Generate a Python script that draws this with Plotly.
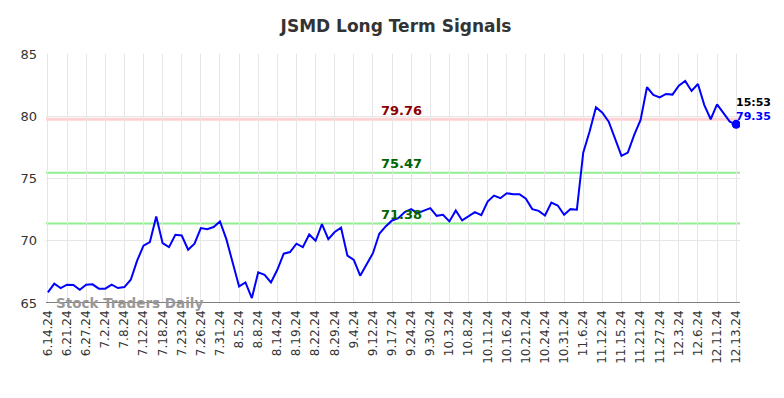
import plotly.graph_objects as go

tick_labels = ["6.14.24", "6.21.24", "6.27.24", "7.2.24", "7.8.24", "7.12.24", "7.18.24",
               "7.23.24", "7.26.24", "7.31.24", "8.5.24", "8.8.24", "8.14.24", "8.19.24",
               "8.22.24", "8.29.24", "9.4.24", "9.12.24", "9.17.24", "9.24.24", "9.30.24",
               "10.3.24", "10.8.24", "10.11.24", "10.16.24", "10.21.24", "10.24.24",
               "10.31.24", "11.6.24", "11.12.24", "11.15.24", "11.21.24", "11.27.24",
               "12.3.24", "12.6.24", "12.11.24", "12.13.24"]

prices = [65.85, 66.55, 66.2, 66.47, 66.45, 66.07, 66.47, 66.5, 66.15, 66.15,
          66.47, 66.2, 66.28, 66.87, 68.4, 69.6, 69.9, 71.95, 69.81, 69.49,
          70.48, 70.42, 69.28, 69.76, 71.02, 70.93, 71.1, 71.55, 70.13, 68.2,
          66.33, 66.65, 65.4, 67.46, 67.27, 66.65, 67.67, 68.96, 69.09, 69.76,
          69.49, 70.5, 70.0, 71.34, 70.13, 70.7, 71.05, 68.8, 68.47, 67.19,
          68.07, 69.0, 70.56, 71.15, 71.63, 71.82, 72.3, 72.54, 72.22, 72.43,
          72.62, 72.0, 72.08, 71.55, 72.43, 71.63, 71.95, 72.3, 72.06, 73.15,
          73.63, 73.42, 73.82, 73.74, 73.74, 73.37, 72.54, 72.4, 72.03, 73.07,
          72.83, 72.08, 72.54, 72.49, 77.08, 78.77, 80.72, 80.29, 79.57, 78.24,
          76.82, 77.08, 78.5, 79.7, 82.33, 81.71, 81.52, 81.79, 81.74, 82.46,
          82.83, 82.03, 82.59, 80.9, 79.76, 80.96, 80.29, 79.57, 79.35]

levels = [79.76, 75.47, 71.38]
level_line_colors = ["rgba(255,0,0,0.18)", "#90ee90", "#90ee90"]
level_text_colors = ["#8b0000", "#006400", "#006400"]
last_time = "15:53"

x = list(range(len(prices)))
step = 3
tickvals = [i * step for i in range(len(tick_labels))]

fig = go.Figure()
fig.add_trace(go.Scatter(x=x, y=prices, mode="lines",
                         line=dict(color="#0000ff", width=2), hoverinfo="skip"))
fig.add_trace(go.Scatter(x=[x[-1]], y=[prices[-1]], mode="markers",
                         marker=dict(color="#0000ff", size=9), hoverinfo="skip"))

for lv, lc, tc, w in zip(levels, level_line_colors, level_text_colors, [3, 2, 2]):
    fig.add_shape(type="line", xref="paper", x0=0, x1=1, y0=lv, y1=lv,
                  line=dict(color=lc, width=w), layer="below")
    fig.add_annotation(x=55.5, y=lv, text=f"<b>{lv:.2f}</b>", showarrow=False,
                       yshift=9, font=dict(color=tc, size=13, family="DejaVu Sans"))

fig.add_annotation(x=x[-1], y=prices[-1], text=f"<b>{last_time}</b>", showarrow=False,
                   xanchor="left", xshift=-2, yshift=22,
                   font=dict(color="#000000", size=11, family="DejaVu Sans"))
fig.add_annotation(x=x[-1], y=prices[-1], text=f"<b>{prices[-1]:.2f}</b>", showarrow=False,
                   xanchor="left", xshift=-2, yshift=8,
                   font=dict(color="#0000ff", size=11, family="DejaVu Sans"))

fig.add_annotation(xref="paper", yref="y", x=0.018, y=65, text="<b>Stock Traders Daily</b>",
                   showarrow=False, xanchor="left", xshift=-4,
                   font=dict(color="#999999", size=13.5, family="DejaVu Sans"))

fig.update_layout(
    width=776, height=390,
    margin=dict(l=32, r=44, t=46, b=95),
    paper_bgcolor="white", plot_bgcolor="white",
    showlegend=False,
    title=dict(text="<b>JSMD Long Term Signals</b>", x=0.5, xanchor="center", y=0.954,
               yanchor="middle",
               font=dict(size=17, color="#333333", family="DejaVu Sans")),
    font=dict(family="DejaVu Sans", color="#333333"),
)
fig.update_xaxes(range=[-0.3, 108.6], tickmode="array", tickvals=tickvals, ticktext=tick_labels,
                 tickangle=-90, tickfont=dict(size=12, color="#333333"),
                 showgrid=True, gridcolor="#e6e6e6", gridwidth=1,
                 showline=False, zeroline=False, ticks="", ticklabelstandoff=4)
fig.update_yaxes(range=[65, 85], tickvals=[65, 70, 75, 80, 85],
                 tickfont=dict(size=13, color="#333333"),
                 showgrid=True, gridcolor="#e6e6e6", gridwidth=1, zeroline=False,
                 showline=False, ticks="", ticklabelstandoff=8)
fig.add_shape(type="line", xref="paper", x0=0, x1=1, y0=65, y1=65,
              line=dict(color="#555555", width=1.5))

fig.write_html("out.html")
